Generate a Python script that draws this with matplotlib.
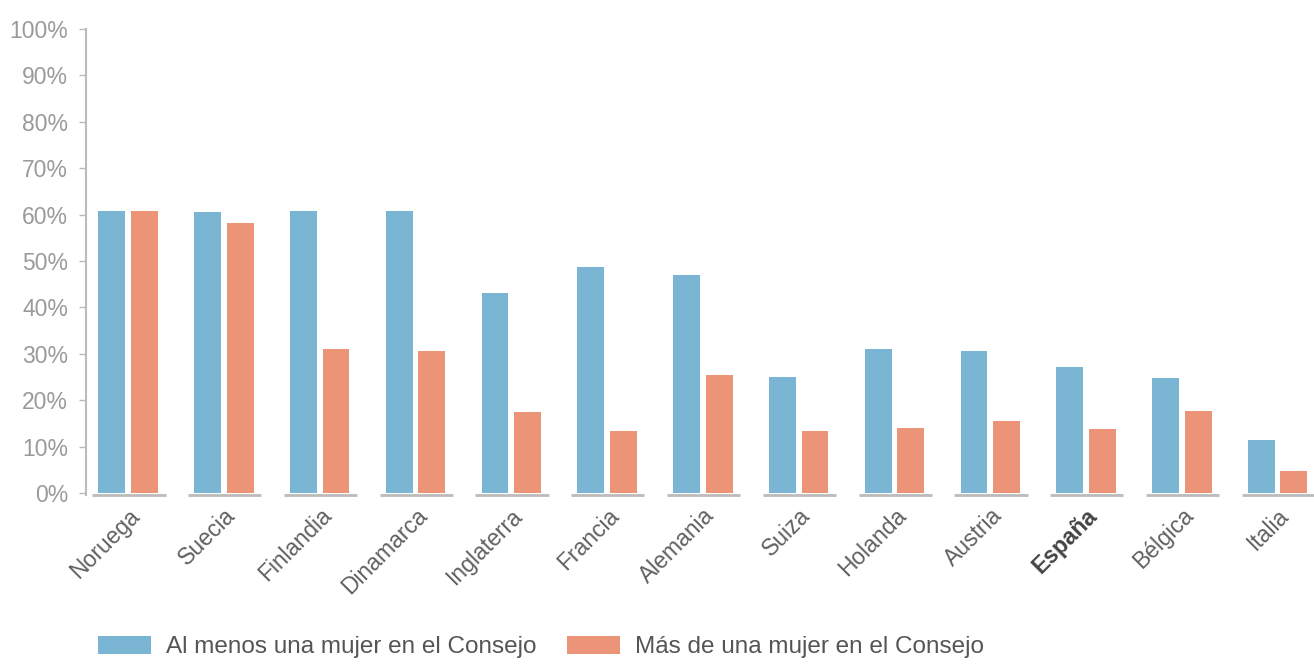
import matplotlib.pyplot as plt
import numpy as np

plt.rcParams['font.family'] = ['Liberation Sans', 'DejaVu Sans']

# Datos
paises = ['Noruega', 'Suecia', 'Finlandia', 'Dinamarca', 'Inglaterra', 'Francia',
          'Alemania', 'Suiza', 'Holanda', 'Austria', 'España', 'Bélgica', 'Italia']
al_menos_una = [60.8, 60.6, 60.8, 60.8, 43.1, 48.7, 47.0, 25.0, 31.0, 30.6, 27.2, 24.8, 11.4]
mas_de_una = [60.8, 58.2, 31.0, 30.6, 17.5, 13.4, 25.4, 13.4, 14.0, 15.5, 13.8, 17.7, 4.7]
yticks = [0, 10, 20, 30, 40, 50, 60, 70, 80, 90, 100]

azul = '#7ab5d3'
naranja = '#ec9478'
gris = '#9a9a9a'

fig = plt.figure(figsize=(13.14, 6.64), dpi=100)
ax = fig.add_axes([86 / 1314, 1 - 493 / 664, 1228 / 1314, 464 / 664])

x = np.arange(len(paises))
w = 0.28
ax.bar(x - 0.17, al_menos_una, w, color=azul, label='Al menos una mujer en el Consejo')
ax.bar(x + 0.17, mas_de_una, w, color=naranja, label='Más de una mujer en el Consejo')

# linea base por grupo
for xi in x:
    ax.plot([xi - 0.375, xi + 0.39], [-0.4, -0.4], color='#bbbbbb', lw=2, clip_on=False,
            solid_capstyle='butt')

ax.set_xlim(-0.44, 12.38)
ax.set_ylim(0, 100)
ax.set_yticks(yticks)
ax.set_yticklabels([f'{v}%' for v in yticks], fontsize=16.5, color=gris)
ax.tick_params(axis='y', length=5, width=1, color='#bbbbbb', pad=8)
ax.tick_params(axis='x', length=0, pad=8)
ax.set_xticks(x)
ax.set_xticklabels(paises, rotation=45, ha='right', rotation_mode='anchor', fontsize=16.5, color='#606060')
for lbl in ax.get_xticklabels():
    if lbl.get_text() == 'España':
        lbl.set_fontweight('bold')
        lbl.set_color('#444444')

for s in ['top', 'right', 'bottom']:
    ax.spines[s].set_visible(False)
ax.spines['left'].set_color('#bbbbbb')
ax.spines['left'].set_linewidth(1.5)
ax.spines['left'].set_bounds(-0.5, 100)

fig.legend(loc='center left', bbox_to_anchor=(76 / 1314, 1 - 647 / 664), ncol=2, frameon=False,
           fontsize=17.5, handlelength=2.2, handleheight=0.75, handletextpad=0.6, columnspacing=1.25,
           labelcolor='#555555')

fig.savefig('out.png', dpi=100)
